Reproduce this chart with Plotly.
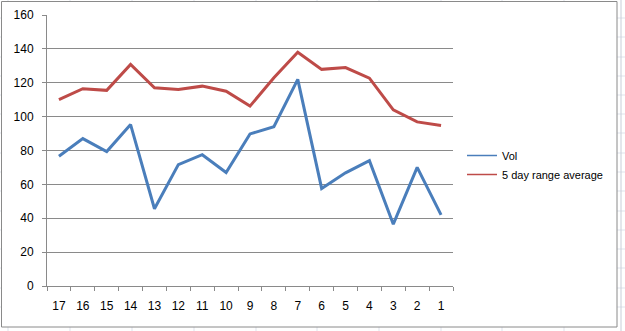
import plotly.graph_objects as go

categories = ["17", "16", "15", "14", "13", "12", "11", "10", "9", "8", "7", "6", "5", "4", "3", "2", "1"]
vol = [76.6, 87, 79.4, 95.3, 45.6, 71.7, 77.5, 67, 89.8, 94, 122, 57.6, 66.8, 74, 36.5, 70, 42]
avg5 = [110, 116.5, 115.5, 130.8, 117, 116, 118, 115, 106.2, 123, 138, 127.9, 129, 122.7, 104, 96.9, 94.8]
y_ticks = [0, 20, 40, 60, 80, 100, 120, 140, 160]

W, H = 625, 331
L, R, T, B = 47, 453, 15, 286
pw, ph = R - L, B - T

def px(x):
    return (x - L) / pw

def py(y):
    return (B - y) / ph

BLUE = "#4A7EBB"
RED = "#BE4B48"
GRID = "#8a8a8a"
FONT = "Liberation Sans"

fig = go.Figure()
fig.add_trace(go.Scatter(x=categories, y=vol, mode="lines", line=dict(color=BLUE, width=3),
                         showlegend=False, hoverinfo="skip"))
fig.add_trace(go.Scatter(x=categories, y=avg5, mode="lines", line=dict(color=RED, width=3),
                         showlegend=False, hoverinfo="skip"))
fig.add_trace(go.Scatter(x=[None], y=[None], mode="lines", name="Vol", line=dict(color=BLUE, width=1.5)))
fig.add_trace(go.Scatter(x=[None], y=[None], mode="lines", name="5 day range average", line=dict(color=RED, width=1.5)))

shapes = []
# faint spreadsheet cell grid behind the chart
cell = "#dfe3ec"
for xv in [8, 70, 132, 194, 256, 317, 379, 441, 502, 564]:
    shapes.append(dict(type="line", xref="paper", yref="paper", x0=px(xv), x1=px(xv), y0=py(331), y1=py(0),
                       line=dict(color=cell, width=1), layer="below"))
for yv in [18, 37, 57, 76, 95, 114, 133, 153, 172, 191, 211, 230, 249, 268, 288, 307]:
    shapes.append(dict(type="line", xref="paper", yref="paper", x0=px(0), x1=px(625), y0=py(yv), y1=py(yv),
                       line=dict(color=cell, width=1), layer="below"))
shapes.append(dict(type="line", xref="paper", yref="paper", x0=px(621), x1=px(621), y0=py(331), y1=py(0),
                   line=dict(color="#c8cdd8", width=1), layer="below"))
# chart area
shapes.append(dict(type="rect", xref="paper", yref="paper", x0=px(1.5), x1=px(617), y0=py(327), y1=py(1.5),
                   fillcolor="white", line=dict(color="#8a8a8a", width=1), layer="below"))

fig.update_layout(
    width=W, height=H,
    margin=dict(l=L, r=W - R, t=T, b=H - B, pad=0, autoexpand=False),
    paper_bgcolor="white",
    plot_bgcolor="rgba(0,0,0,0)",
    font=dict(family=FONT, size=12, color="black"),
    shapes=shapes,
    legend=dict(x=px(462), y=py(141), xanchor="left", yanchor="top",
                bgcolor="rgba(0,0,0,0)", font=dict(family=FONT, size=11, color="black"),
                itemwidth=30, tracegroupgap=8),
    xaxis=dict(
        type="category", categoryorder="array", categoryarray=categories,
        range=[-0.5, len(categories) - 0.5],
        showgrid=False, showline=True, linecolor=GRID, linewidth=1,
        ticks="outside", ticklen=4, tickcolor=GRID, tickson="boundaries",
        ticklabelstandoff=9, zeroline=False, fixedrange=True,
    ),
    yaxis=dict(
        range=[0, 160], tickvals=y_ticks, ticktext=[str(v) for v in y_ticks],
        showgrid=True, gridcolor=GRID, gridwidth=1,
        showline=True, linecolor=GRID, linewidth=1,
        ticks="outside", ticklen=4, tickcolor=GRID,
        ticklabelstandoff=6, zeroline=False, fixedrange=True,
    ),
)

fig.write_html("out.html")
